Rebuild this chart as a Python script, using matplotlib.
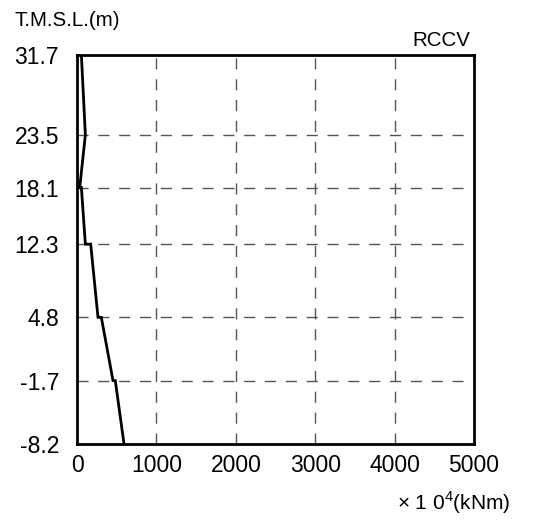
import matplotlib
matplotlib.use("Agg")
import matplotlib.pyplot as plt

plt.rcParams['font.family'] = ['Liberation Sans', 'DejaVu Sans']
plt.rcParams['mathtext.fontset'] = 'custom'
plt.rcParams['mathtext.rm'] = 'Liberation Sans'

# Elevation levels (T.M.S.L., m) and tick labels
levels = [31.7, 23.5, 18.1, 12.3, 4.8, -1.7, -8.2]
level_labels = ["31.7", "23.5", "18.1", "12.3", "4.8", "-1.7", "-8.2"]

# Moment profile (x10^4 kNm): each level has value above and below
profile_y = [31.7, 23.5, 18.1, 18.1, 12.3, 12.3, 4.8, 4.8, -1.7, -1.7, -8.2]
profile_x = [55, 105, 34, 55, 105, 172, 264, 306, 453, 482, 592]

x_ticks = [0, 1000, 2000, 3000, 4000, 5000]

fig = plt.figure(figsize=(5.39, 5.21), dpi=100)
ax = fig.add_axes([0.1429, 0.1478, 0.8794 - 0.1429, 0.8944 - 0.1478])

ax.plot(profile_x, profile_y, color='black', lw=2, solid_joinstyle='miter', zorder=3)

ax.set_xlim(0, 5000)
ax.set_ylim(-8.2, 31.7)
ax.set_xticks(x_ticks)
ax.set_xticklabels([str(t) for t in x_ticks])
ax.set_yticks(levels)
ax.set_yticklabels(level_labels)
ax.tick_params(axis='both', length=0, labelsize=16.5, colors='black')
ax.tick_params(axis='x', pad=7)
ax.tick_params(axis='y', pad=13)

for x in x_ticks[1:-1]:
    ax.axvline(x, color='#555555', lw=1, dashes=(8, 7), zorder=1)
for y in levels[1:-1]:
    ax.axhline(y, color='#555555', lw=1, dashes=(8, 7), zorder=1)

for s in ax.spines.values():
    s.set_linewidth(2)
    s.set_color('black')

fig.text(14 / 539, 1 - 20 / 521, "T.M.S.L.(m)", fontsize=14.8, ha='left', va='center')
fig.text(470 / 539, 1 - 40 / 521, "RCCV", fontsize=14.8, ha='right', va='center')
fig.text(510 / 539, 1 - 503 / 521, "\u00d7 1 0$^{4}$(kNm)", fontsize=15, ha='right', va='center')

fig.savefig("out.png", dpi=100)
